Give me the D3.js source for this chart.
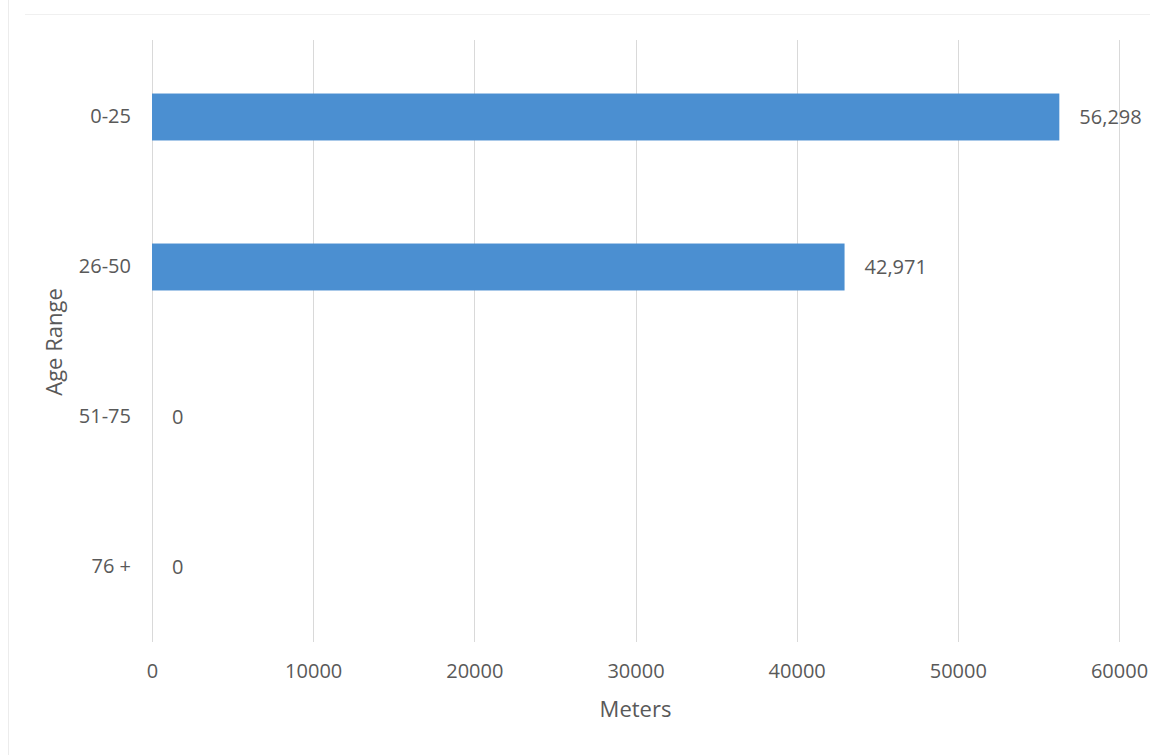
<!DOCTYPE html>
<html>
<head>
<meta charset="utf-8">
<script src="https://cdn.jsdelivr.net/npm/d3@7"></script>
<style>
  html, body { margin: 0; padding: 0; background: #fff; }
  svg { display: block; }
  text { font-family: "Open Sans", "Noto Sans", sans-serif; fill: #595959; }
</style>
</head>
<body>
<svg id="chart" width="1166" height="755"></svg>
<script>
const categories = ["0-25", "26-50", "51-75", "76 +"];
const values = [56298, 42971, 0, 0];
const valueLabels = ["56,298", "42,971", "0", "0"];
const xTicks = [0, 10000, 20000, 30000, 40000, 50000, 60000];
const xTitle = "Meters";
const yTitle = "Age Range";

const svg = d3.select("#chart");
const W = 1166, H = 755;
const plot = { left: 152, right: 1119, top: 42, bottom: 642 };
const FONT = '"Open Sans", "Noto Sans", sans-serif';

// faint outer frame
svg.append("line").attr("x1", 8.5).attr("x2", 8.5).attr("y1", 0).attr("y2", H)
  .attr("stroke", "#ececec").attr("stroke-width", 1);
svg.append("line").attr("x1", 25).attr("x2", 1150).attr("y1", 14.5).attr("y2", 14.5)
  .attr("stroke", "#f0f0f0").attr("stroke-width", 1);

const x = d3.scaleLinear().domain([0, 60000]).range([plot.left, plot.right]);
const y = d3.scaleBand().domain(categories).range([plot.top, plot.bottom]).paddingInner(0.687).paddingOuter(0.3435);

// gridlines
svg.append("g").selectAll("line").data(xTicks).join("line")
  .attr("x1", d => Math.round(x(d)) + 0.5).attr("x2", d => Math.round(x(d)) + 0.5)
  .attr("y1", 40).attr("y2", plot.bottom)
  .attr("stroke", "#d9d9d9").attr("stroke-width", 1);

// x axis labels
const xAxis = d3.axisBottom(x).tickValues(xTicks).tickSize(0).tickPadding(0).tickFormat(d3.format("d"));
const gx = svg.append("g").attr("transform", `translate(0, 671)`).call(xAxis);
gx.select(".domain").remove();
gx.selectAll("text").attr("dy", "0.35em").attr("font-size", 20).attr("fill", "#595959")
  .style("font-family", FONT);

// y axis labels
const yAxis = d3.axisLeft(y).tickSize(0).tickPadding(0);
const gy = svg.append("g").attr("transform", `translate(${plot.left - 21}, 0)`).call(yAxis);
gy.select(".domain").remove();
gy.selectAll("text").attr("font-size", 20).attr("fill", "#595959")
  .style("font-family", FONT);

// bars
svg.append("g").selectAll("rect").data(values).join("rect")
  .attr("x", x(0))
  .attr("y", (d, i) => y(categories[i]))
  .attr("width", d => x(d) - x(0))
  .attr("height", y.bandwidth())
  .attr("fill", "#4b8fd1");

// value labels
svg.append("g").selectAll("text").data(values).join("text")
  .attr("x", d => x(d) + 20)
  .attr("y", (d, i) => y(categories[i]) + y.bandwidth() / 2)
  .attr("dy", "0.35em")
  .attr("font-size", 20)
  .text((d, i) => valueLabels[i]);

// axis titles
svg.append("text").attr("x", (plot.left + plot.right) / 2).attr("y", 709)
  .attr("dy", "0.35em").attr("text-anchor", "middle").attr("font-size", 22).text(xTitle);
svg.append("text").attr("transform", `translate(54, ${(plot.top + plot.bottom) / 2}) rotate(-90)`)
  .attr("dy", "0.35em").attr("text-anchor", "middle").attr("font-size", 22).text(yTitle);
</script>
</body>
</html>
